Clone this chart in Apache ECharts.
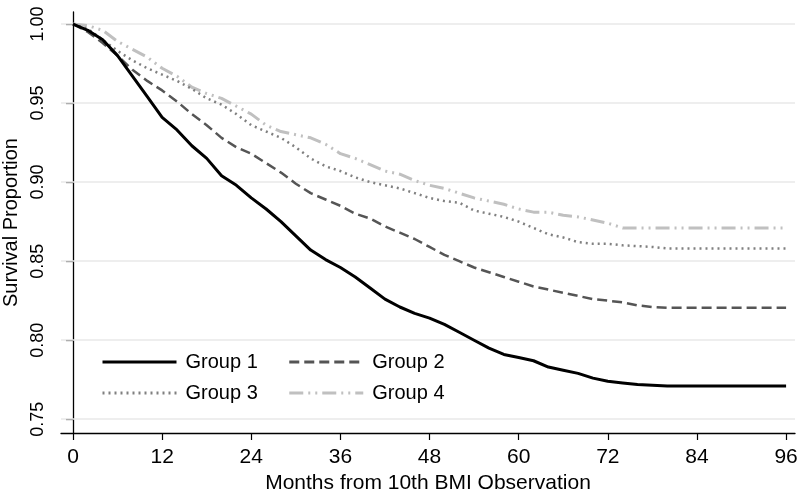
<!DOCTYPE html>
<html>
<head>
<meta charset="utf-8">
<title>Survival by group</title>
<script src="https://cdn.jsdelivr.net/npm/echarts@6/dist/echarts.min.js"></script>
</head>
<body style="margin:0;background:#fff">
<div id="main" style="width:800px;height:491px;"></div>
<script type="text/javascript">
// months since 10th BMI observation (every 2 months)
var months = [0,2,4,6,8,10,12,14,16,18,20,22,24,26,28,30,32,34,36,38,40,42,44,46,48,
              50,52,54,56,58,60,62,64,66,68,70,72,74,76,78,80,82,84,86,88,90,92,94,96];

var group1 = [1.000,0.996,0.990,0.980,0.967,0.954,0.941,0.933,0.923,0.915,0.904,0.898,0.890,0.883,0.875,0.866,0.857,0.851,0.846,0.840,0.833,0.826,0.821,0.817,0.814,
              0.810,0.805,0.800,0.795,0.791,0.789,0.787,0.783,0.781,0.779,0.776,0.774,0.773,0.772,0.7715,0.771,0.771,0.771,0.771,0.771,0.771,0.771,0.771,0.771];
var group2 = [1.000,0.995,0.988,0.980,0.971,0.964,0.958,0.951,0.943,0.936,0.928,0.922,0.918,0.912,0.906,0.899,0.893,0.889,0.885,0.880,0.877,0.872,0.868,0.864,0.859,
              0.854,0.850,0.846,0.843,0.840,0.837,0.834,0.832,0.830,0.828,0.826,0.825,0.824,0.822,0.821,0.8205,0.8205,0.8205,0.8205,0.8205,0.8205,0.8205,0.8205,0.8205];
var group3 = [1.000,0.997,0.990,0.983,0.977,0.972,0.968,0.964,0.959,0.953,0.949,0.943,0.936,0.932,0.928,0.922,0.915,0.910,0.907,0.903,0.900,0.898,0.896,0.893,0.890,
              0.888,0.887,0.882,0.880,0.878,0.875,0.871,0.867,0.865,0.862,0.861,0.861,0.860,0.8595,0.859,0.858,0.858,0.858,0.858,0.858,0.858,0.858,0.858,0.858];
var group4 = [1.000,0.999,0.996,0.989,0.984,0.979,0.972,0.967,0.960,0.956,0.953,0.948,0.943,0.936,0.932,0.930,0.928,0.924,0.918,0.915,0.911,0.907,0.905,0.901,0.898,
              0.896,0.893,0.890,0.888,0.886,0.883,0.881,0.881,0.879,0.878,0.876,0.874,0.871,0.871,0.871,0.871,0.871,0.871,0.871,0.871,0.871,0.871,0.871,0.871];

var groupNames = ['Group 1', 'Group 2', 'Group 3', 'Group 4'];
var xTicks = [0,12,24,36,48,60,72,84,96];
var yTicks = [0.75,0.80,0.85,0.90,0.95,1.00];

function pairs(xs, ys) {
    var out = [];
    for (var i = 0; i < xs.length; i++) {
        out.push([xs[i], ys[i]]);
    }
    return out;
}

var font = 'Liberation Sans, Arial, sans-serif';

function legendRow(names, top) {
    return {
        data: names,
        left: 96, top: top,
        itemWidth: 74, itemHeight: 20, itemGap: 30,
        itemStyle: {opacity: 0},
        lineStyle: {width: 3},
        textStyle: {fontFamily: font, fontSize: 20, color: '#000', padding: [0, 0, 0, 4]}
    };
}

var myChart = echarts.init(document.getElementById('main'));
var option = {
    backgroundColor: '#fff',
    animation: false,
    grid: {left: 61, right: 5, top: 12, bottom: 58, outerBoundsMode: 'none'},
    legend: [
        legendRow([groupNames[0], groupNames[1]], 347),
        legendRow([groupNames[2], groupNames[3]], 378)
    ],
    xAxis: {
        type: 'value',
        min: -1.615, max: 97.2,
        name: 'Months from 10th BMI Observation',
        nameLocation: 'middle', nameGap: 32,
        nameTextStyle: {fontFamily: font, fontSize: 21, color: '#000'},
        axisLine: {lineStyle: {color: '#000', width: 1.3}},
        axisTick: {customValues: xTicks, length: 7, lineStyle: {color: '#000', width: 1.2}},
        axisLabel: {customValues: xTicks, margin: 14, fontFamily: font, fontSize: 21, color: '#000'},
        splitLine: {show: false}
    },
    yAxis: {
        type: 'value',
        min: 0.7413, max: 1.0076,
        name: 'Survival Proportion',
        nameLocation: 'middle', nameGap: 38,
        nameTextStyle: {fontFamily: font, fontSize: 20, color: '#000'},
        axisLine: {show: true, lineStyle: {color: '#000', width: 1.3}},
        axisTick: {show: true, customValues: yTicks, length: 7, lineStyle: {color: '#000', width: 1.2}},
        axisLabel: {
            customValues: yTicks, rotate: 90, margin: 14,
            fontFamily: font, fontSize: 18, color: '#000',
            formatter: function (v) { return v.toFixed(2); }
        },
        splitLine: {show: false}
    },
    series: [{
        name: groupNames[0], type: 'line', data: pairs(months, group1),
        symbol: 'none', z: 5,
        lineStyle: {color: '#000', width: 3, type: 'solid'},
        itemStyle: {color: '#000'},
        markLine: {
            silent: true, symbol: 'none', label: {show: false}, z: 1,
            lineStyle: {color: '#e8e8e8', width: 1.5, type: 'solid'},
            data: yTicks.map(function (t) { return {yAxis: t}; })
        }
    }, {
        name: groupNames[1], type: 'line', data: pairs(months, group2),
        symbol: 'none', z: 4,
        lineStyle: {color: '#555', width: 2.5, type: [10, 5]},
        itemStyle: {color: '#555'}
    }, {
        name: groupNames[2], type: 'line', data: pairs(months, group3),
        symbol: 'none', z: 3,
        lineStyle: {color: '#808080', width: 2.5, type: [2, 4]},
        itemStyle: {color: '#808080'}
    }, {
        name: groupNames[3], type: 'line', data: pairs(months, group4),
        symbol: 'none', z: 2,
        lineStyle: {color: '#c0c0c0', width: 3, type: [14, 5, 2, 5, 2, 5]},
        itemStyle: {color: '#c0c0c0'}
    }]
};
myChart.setOption(option);
</script>
</body>
</html>
